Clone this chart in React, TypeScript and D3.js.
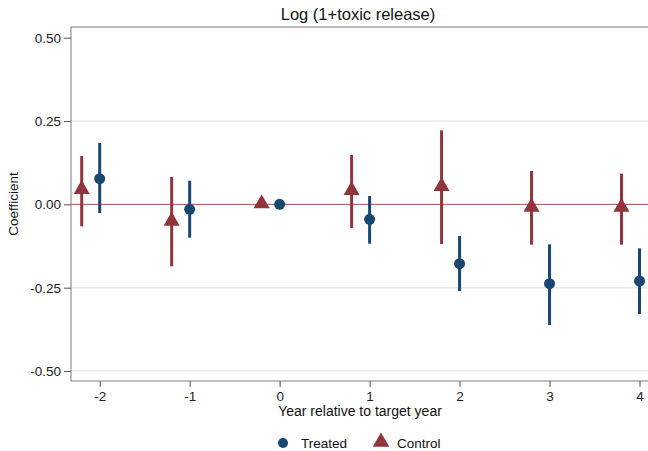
import React, { useEffect, useRef } from "react";
import * as d3 from "d3";

// event-study coefficients
const years = [-2, -1, 0, 1, 2, 3, 4];
const treatedCoef = [0.077, -0.015, 0, -0.045, -0.178, -0.238, -0.23];
const treatedLo = [-0.026, -0.1, null, -0.118, -0.26, -0.362, -0.329];
const treatedHi = [0.184, 0.071, null, 0.025, -0.095, -0.12, -0.132];
const controlCoef = [0.045, -0.05, 0.002, 0.042, 0.054, -0.008, -0.008];
const controlLo = [-0.066, -0.186, null, -0.071, -0.119, -0.121, -0.121];
const controlHi = [0.145, 0.082, null, 0.148, 0.222, 0.1, 0.092];
const yTicks = [-0.5, -0.25, 0, 0.25, 0.5];

const NAVY = "#1a476f";
const MAROON = "#90353b";

function App() {
  const ref = useRef(null);

  useEffect(() => {
    const svg = d3.select(ref.current);
    svg.selectAll("*").remove();
    const font = "Liberation Sans, Arial, sans-serif";
    const hyphen = (f) => (v) => f(v).replace("\u2212", "-");

    const left = 71, top = 27, bottom = 381, right = 648;
    const x = d3.scaleLinear().domain([-2, 4]).range([99.7, 639.5]);
    const y = d3.scaleLinear().domain([-0.5, 0.5]).range([371, 37.7]);

    // gridlines
    svg.selectAll("line.grid")
      .data(yTicks.filter((t) => t !== 0 && t !== 0.5))
      .enter().append("line")
      .attr("x1", left).attr("x2", right)
      .attr("y1", (d) => y(d)).attr("y2", (d) => y(d))
      .attr("stroke", "#eaeaea").attr("stroke-width", 1.5);

    // zero line
    svg.append("line")
      .attr("x1", left).attr("x2", right)
      .attr("y1", y(0)).attr("y2", y(0))
      .attr("stroke", MAROON).attr("stroke-width", 1).attr("opacity", 0.85);

    // frame
    svg.append("line").attr("x1", left).attr("x2", right).attr("y1", top).attr("y2", top)
      .attr("stroke", "#7a7a7a").attr("stroke-width", 1);

    const yAxis = svg.append("g").attr("transform", `translate(${left},0)`)
      .call(d3.axisLeft(y).tickValues(yTicks).tickFormat(hyphen(d3.format(".2f"))).tickSize(7).tickPadding(3));
    yAxis.select(".domain").attr("d", `M0,${top}V${bottom}`).attr("stroke", "#7a7a7a");
    yAxis.selectAll("line").attr("stroke", "#555");
    yAxis.selectAll("text").attr("font-family", font).attr("font-size", 13.5).attr("fill", "#222");

    const xAxis = svg.append("g").attr("transform", `translate(0,${bottom})`)
      .call(d3.axisBottom(x).tickValues(years).tickFormat(hyphen(d3.format("d"))).tickSize(6).tickPadding(4));
    xAxis.select(".domain").attr("d", `M${left},0H${right}`).attr("stroke", "#7a7a7a");
    xAxis.selectAll("line").attr("stroke", "#555");
    xAxis.selectAll("text").attr("font-family", font).attr("font-size", 13.5).attr("fill", "#222");

    const treated = years.map((yr, i) => ({ x: yr, c: treatedCoef[i], lo: treatedLo[i], hi: treatedHi[i] }));
    const control = years.map((yr, i) => ({ x: yr - 0.2, c: controlCoef[i], lo: controlLo[i], hi: controlHi[i] }));

    // control: bars + triangles
    svg.selectAll("line.cci")
      .data(control.filter((d) => d.lo !== null))
      .enter().append("line")
      .attr("x1", (d) => x(d.x)).attr("x2", (d) => x(d.x))
      .attr("y1", (d) => y(d.lo)).attr("y2", (d) => y(d.hi))
      .attr("stroke", MAROON).attr("stroke-width", 3);
    const tri = d3.symbol().type(d3.symbolTriangle).size(112);
    svg.selectAll("path.cpt")
      .data(control)
      .enter().append("path")
      .attr("d", tri)
      .attr("transform", (d) => `translate(${x(d.x)},${y(d.c)})`)
      .attr("fill", MAROON);

    // treated: bars + circles
    svg.selectAll("line.tci")
      .data(treated.filter((d) => d.lo !== null))
      .enter().append("line")
      .attr("x1", (d) => x(d.x)).attr("x2", (d) => x(d.x))
      .attr("y1", (d) => y(d.lo)).attr("y2", (d) => y(d.hi))
      .attr("stroke", NAVY).attr("stroke-width", 3);
    svg.selectAll("circle.tpt")
      .data(treated)
      .enter().append("circle")
      .attr("cx", (d) => x(d.x)).attr("cy", (d) => y(d.c))
      .attr("r", 5.5).attr("fill", NAVY);

    // titles
    svg.append("text").attr("x", 358).attr("y", 20).attr("text-anchor", "middle")
      .attr("font-family", font).attr("font-size", 16.5).attr("fill", "#111")
      .text("Log (1+toxic release)");
    svg.append("text").attr("x", 360).attr("y", 416).attr("text-anchor", "middle")
      .attr("font-family", font).attr("font-size", 14).attr("fill", "#111")
      .text("Year relative to target year");
    svg.append("text").attr("transform", "translate(18,204) rotate(-90)").attr("text-anchor", "middle")
      .attr("font-family", font).attr("font-size", 13.5).attr("fill", "#111")
      .text("Coefficient");

    // legend
    const lg = svg.append("g");
    lg.append("circle").attr("cx", 283).attr("cy", 443).attr("r", 5).attr("fill", NAVY);
    lg.append("text").attr("x", 301).attr("y", 448).attr("font-family", font).attr("font-size", 13.5)
      .attr("fill", "#111").text("Treated");
    lg.append("path").attr("d", d3.symbol().type(d3.symbolTriangle).size(120))
      .attr("transform", "translate(381,442)").attr("fill", MAROON);
    lg.append("text").attr("x", 397).attr("y", 448).attr("font-family", font).attr("font-size", 13.5)
      .attr("fill", "#111").text("Control");
  }, []);

  return (
    <svg ref={ref} width={648} height={451}
      style={{ position: "absolute", left: 0, top: 0, background: "#fff" }} />
  );
}

export default App;
